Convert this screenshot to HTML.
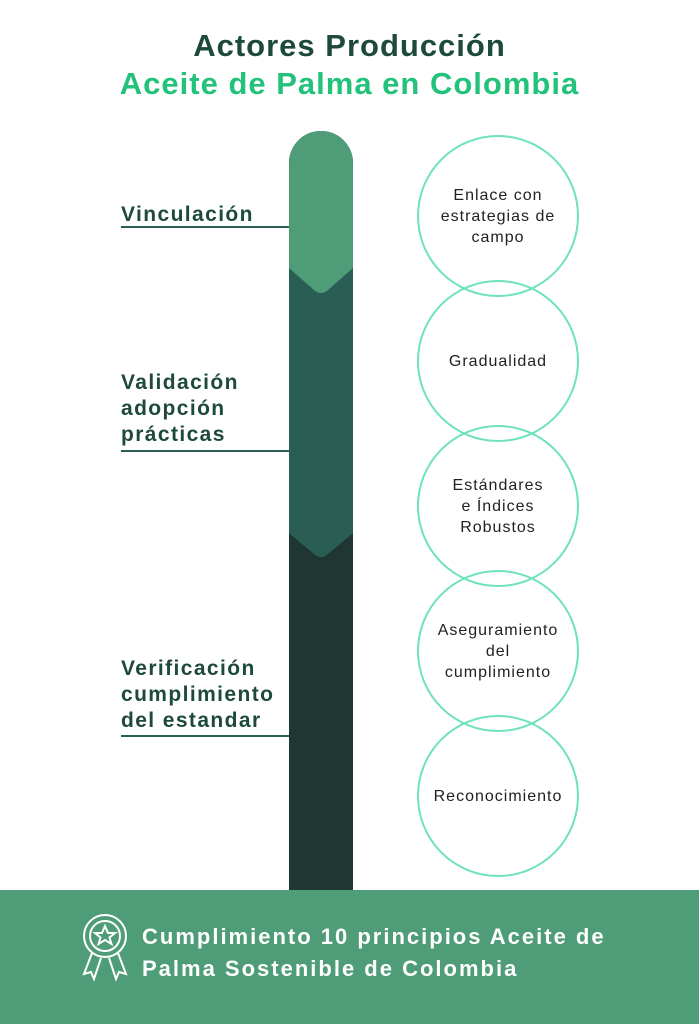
<!DOCTYPE html>
<html><head><meta charset="utf-8"><style>
body{margin:0;width:699px;height:1024px;background:#fff;position:relative;overflow:hidden;font-family:"Liberation Sans",sans-serif}
.t{position:absolute;left:0;width:699px;text-align:center;font-weight:bold;font-size:31px;letter-spacing:1px}
.lab{position:absolute;left:121px;font-weight:bold;font-size:21px;letter-spacing:1.4px;color:#1d4a3a;line-height:26px}
.ln{position:absolute;left:121px;width:168px;height:2px;background:#2a5e55}
.c{position:absolute;left:417px;width:158px;height:158px;border:2px solid #6fe3b8;border-radius:50%;display:flex;align-items:center;justify-content:center;text-align:center;font-size:16px;letter-spacing:1px;color:#222;line-height:21px}
</style></head><body>
<div class="t" style="top:28px;color:#1d4a3a">Actores Producción</div>
<div class="t" style="top:66px;color:#22c27b">Aceite de Palma en Colombia</div>
<svg style="position:absolute;left:0;top:0" width="699" height="1024">
<path d="M289 890 V163 A32 32 0 0 1 353 163 V890Z" fill="#203633"/>
<path d="M289 533 V163 A32 32 0 0 1 353 163 V533 L328 554 Q321 560 314 554Z" fill="#2a5e55"/>
<path d="M289 268 V163 A32 32 0 0 1 353 163 V268 L328 290 Q321 296 314 290Z" fill="#4e9c78"/>
</svg>
<div class="lab" style="top:202px">Vinculación</div><div class="ln" style="top:226px"></div>
<div class="lab" style="top:370px">Validación<br>adopción<br>prácticas</div><div class="ln" style="top:450px"></div>
<div class="lab" style="top:656px">Verificación<br>cumplimiento<br>del estandar</div><div class="ln" style="top:735px"></div>
<div class="c" style="top:135px">Enlace con<br>estrategias de<br>campo</div>
<div class="c" style="top:280px">Gradualidad</div>
<div class="c" style="top:425px">Estándares<br>e Índices<br>Robustos</div>
<div class="c" style="top:570px">Aseguramiento<br>del<br>cumplimiento</div>
<div class="c" style="top:715px">Reconocimiento</div>
<div style="position:absolute;left:0;top:890px;width:699px;height:134px;background:#4e9c78"></div>
<svg style="position:absolute;left:78px;top:912px" width="58" height="72" fill="none" stroke="#fff" stroke-width="2">
<circle cx="27" cy="24" r="21"/><circle cx="27" cy="24" r="15"/>
<path d="M27 14 L30 21 L37 21 L31.5 25.5 L33.5 32 L27 28 L20.5 32 L22.5 25.5 L17 21 L24 21Z"/>
<path d="M14 41 L6 62 L13 60 L16 67 L23 46 M40 41 L48 62 L41 60 L38 67 L31 46"/>
</svg>
<div style="position:absolute;left:142px;top:921px;color:#fff;font-weight:bold;font-size:22px;letter-spacing:2px;line-height:32px;white-space:nowrap">Cumplimiento 10 principios Aceite de<br>Palma Sostenible de Colombia</div>
</body></html>
